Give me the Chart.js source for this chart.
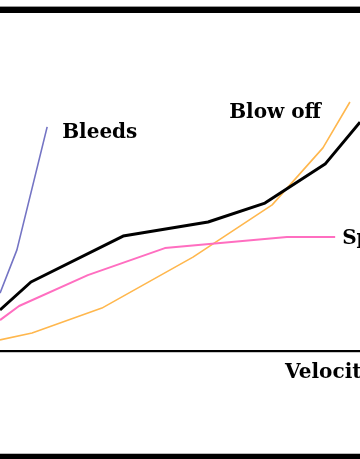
<!DOCTYPE html>
<html>
<head>
<meta charset="utf-8">
<title>Velocity</title>
<script src="https://cdn.jsdelivr.net/npm/chart.js@4.4.1/dist/chart.umd.min.js"></script>
<style>
  html, body { margin: 0; padding: 0; background: #fff; }
  #wrap { position: relative; width: 360px; height: 459px; overflow: hidden; }
  .bar { position: absolute; left: 0; width: 360px; background: #000; }
  #topBar { top: 7px; height: 6px; border-top: 1px solid #999; margin-top: -1px; }
  #bottomBar { top: 454px; height: 5px; border-top: 1px solid #bbb; margin-top: -1px; }
</style>
</head>
<body>
<div id="wrap">
  <canvas id="velChart" width="360" height="459"></canvas>
  <div class="bar" id="topBar"></div>
  <div class="bar" id="bottomBar"></div>
</div>
<script>
// valores (x = velocidad, y = magnitud, unidades arbitrarias)
const mainX = [0, 8.6, 34.2, 57.8, 73.6, 90.3, 100];
const mainY = [13.7, 23, 38.3, 43, 49.3, 62.3, 76.3];

const speedX = [0, 5.3, 24.4, 45.8, 79.7, 93.1];
const speedY = [10.3, 15, 25.3, 34.3, 38, 38];

const blowX = [0, 8.9, 28.3, 53.6, 75.6, 89.7, 97.2];
const blowY = [3.7, 6, 14.3, 31.3, 48.7, 67.7, 83];

const bleedX = [0, 4.7, 13.1];
const bleedY = [19.3, 33.7, 74.7];

const labels = { bleeds: 'Bleeds', blowOff: 'Blow off', speed: 'Speed', axisX: 'Velocity' };

function toPoints(xs, ys) {
    return xs.map((x, i) => ({ x: x, y: ys[i] }));
}

const LABEL_FONT = 'bold 20px "DejaVu Serif", serif';

// dibuja las etiquetas junto al final de cada curva y el eje X
const labelPlugin = {
    id: 'curveLabels',
    afterDatasetsDraw(chart) {
        const ctx = chart.ctx;
        const area = chart.chartArea;
        const xScale = chart.scales.x;

        // eje X
        ctx.save();
        ctx.fillStyle = '#000';
        ctx.fillRect(area.left, area.bottom - 1, area.right - area.left, 2);
        ctx.fillStyle = '#c8c8c8';
        ctx.fillRect(area.left, area.bottom + 1, area.right - area.left, 1);

        ctx.font = LABEL_FONT;
        ctx.fillStyle = '#000';
        ctx.textBaseline = 'alphabetic';

        const lastPoint = (i) => {
            const pts = chart.getDatasetMeta(i).data;
            return pts[pts.length - 1];
        };

        const bleedEnd = lastPoint(3);
        ctx.textAlign = 'left';
        ctx.fillText(labels.bleeds, bleedEnd.x + 15, bleedEnd.y + 11);

        const blowEnd = lastPoint(2);
        ctx.textAlign = 'right';
        ctx.fillText(labels.blowOff, blowEnd.x - 29, blowEnd.y + 16);

        const speedEnd = lastPoint(1);
        ctx.textAlign = 'left';
        ctx.fillText(labels.speed, speedEnd.x + 7, speedEnd.y + 7);

        ctx.textAlign = 'left';
        ctx.fillText(labels.axisX, xScale.getPixelForValue(79.2), area.bottom + 27);
        ctx.restore();
    }
};

const ctx = document.getElementById('velChart').getContext('2d');

new Chart(ctx, {
    type: 'line',
    data: {
        datasets: [
            { label: 'main', data: toPoints(mainX, mainY), borderColor: '#000000', borderWidth: 3 },
            { label: 'speed', data: toPoints(speedX, speedY), borderColor: '#ff6ec0', borderWidth: 2 },
            { label: 'blow off', data: toPoints(blowX, blowY), borderColor: '#ffb74d', borderWidth: 1.6 },
            { label: 'bleeds', data: toPoints(bleedX, bleedY), borderColor: '#7474c4', borderWidth: 1.6 }
        ]
    },
    options: {
        responsive: false,
        animation: false,
        devicePixelRatio: 1,
        layout: { padding: { top: 12, bottom: 108, left: 0, right: 0 } },
        elements: {
            point: { radius: 0 },
            line: { tension: 0, fill: false, borderJoinStyle: 'round' }
        },
        scales: {
            x: { type: 'linear', min: 0, max: 100, display: false },
            y: { type: 'linear', min: 0, max: 113, display: false }
        },
        plugins: {
            legend: { display: false },
            tooltip: { enabled: false }
        }
    },
    plugins: [labelPlugin]
});
</script>
</body>
</html>
